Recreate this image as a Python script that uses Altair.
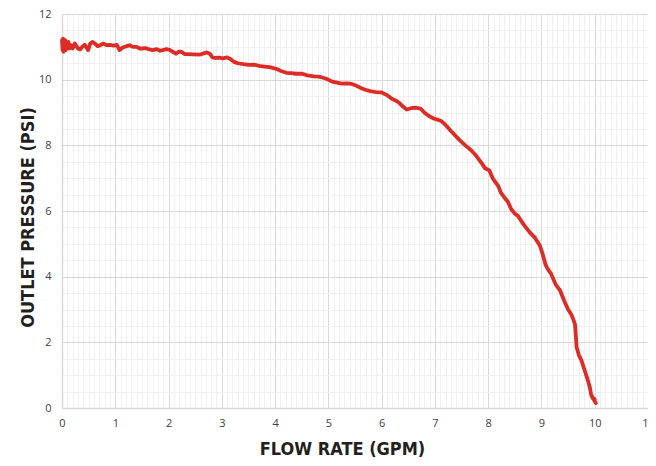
import altair as alt
import pandas as pd

flow = [0.00, 0.01, 0.02, 0.03, 0.04, 0.05, 0.06, 0.07, 0.08, 0.10, 0.12, 0.14, 0.17, 0.20,
        0.24, 0.30, 0.34, 0.38, 0.43, 0.47, 0.49, 0.53, 0.57, 0.62, 0.67, 0.72, 0.77, 0.84,
        0.90, 0.97, 1.03, 1.08, 1.14, 1.21, 1.27, 1.33, 1.40, 1.46, 1.51, 1.58, 1.64, 1.70,
        1.78, 1.84, 1.89, 1.96, 2.02, 2.08, 2.14, 2.19, 2.24, 2.30, 2.36, 2.45, 2.58, 2.66,
        2.72, 2.78, 2.82, 2.88, 2.95, 3.02, 3.10, 3.16, 3.22, 3.30, 3.40, 3.51, 3.60, 3.70,
        3.80, 3.90, 4.02, 4.10, 4.21, 4.30, 4.39, 4.51, 4.58, 4.64, 4.73, 4.82, 4.92, 5.00,
        5.07, 5.16, 5.25, 5.35, 5.44, 5.52, 5.63, 5.72, 5.81, 5.90, 6.00, 6.10, 6.19, 6.28,
        6.34, 6.40, 6.47, 6.55, 6.63, 6.73, 6.80, 6.88, 6.97, 7.05, 7.12, 7.20, 7.31, 7.45,
        7.57, 7.68, 7.75, 7.81, 7.88, 7.94, 8.02, 8.09, 8.19, 8.24, 8.30, 8.37, 8.43, 8.50,
        8.56, 8.66, 8.78, 8.88, 8.97, 9.02, 9.08, 9.13, 9.18, 9.27, 9.35, 9.43, 9.50, 9.56,
        9.59, 9.63, 9.65, 9.66, 9.70, 9.75, 9.81, 9.87, 9.91, 9.93, 9.96, 10.00, 9.95, 10.02,
        10.00]
pressure = [11.20, 10.90, 11.25, 10.85, 11.20, 10.95, 11.20, 10.90, 11.15, 10.95, 11.15, 10.95,
            11.05, 10.95, 11.10, 10.95, 10.92, 11.00, 11.06, 10.95, 10.90, 11.10, 11.15, 11.10,
            11.02, 11.05, 11.10, 11.05, 11.06, 11.04, 11.06, 10.90, 10.98, 11.02, 11.05, 11.00,
            11.00, 10.95, 10.95, 10.96, 10.92, 10.90, 10.93, 10.88, 10.90, 10.93, 10.91, 10.85,
            10.79, 10.85, 10.85, 10.78, 10.78, 10.77, 10.76, 10.80, 10.83, 10.78, 10.68, 10.66,
            10.67, 10.65, 10.68, 10.63, 10.55, 10.50, 10.47, 10.45, 10.46, 10.42, 10.40, 10.38,
            10.33, 10.27, 10.21, 10.20, 10.18, 10.18, 10.14, 10.12, 10.10, 10.09, 10.05, 10.00,
            9.94, 9.91, 9.88, 9.89, 9.87, 9.82, 9.73, 9.68, 9.64, 9.62, 9.61, 9.53, 9.42, 9.35,
            9.28, 9.18, 9.09, 9.13, 9.15, 9.12, 9.00, 8.90, 8.82, 8.78, 8.74, 8.62, 8.42, 8.18,
            8.00, 7.85, 7.73, 7.60, 7.45, 7.30, 7.24, 6.98, 6.76, 6.55, 6.42, 6.28, 6.06, 5.92,
            5.85, 5.60, 5.35, 5.18, 4.95, 4.70, 4.35, 4.20, 4.09, 3.75, 3.58, 3.25, 3.00, 2.85,
            2.73, 2.55, 2.10, 1.85, 1.62, 1.45, 1.15, 0.85, 0.62, 0.42, 0.30, 0.25, 0.35, 0.15,
            0.20]

x_ticks = [round(i * 0.1, 1) for i in range(111)]
y_ticks = [round(i * 0.5, 1) for i in range(25)]

df = pd.DataFrame({"flow": flow, "pressure": pressure, "i": list(range(len(flow)))})

title_font = "'DejaVu Sans Condensed', 'Roboto', sans-serif"
label_font = "Open Sans"

chart = alt.Chart(df).mark_line(
    color="#dd2c26", strokeWidth=3.8, strokeJoin="round", strokeCap="round"
).encode(
    x=alt.X("flow:Q", scale=alt.Scale(domain=[0, 11], nice=False, zero=True),
            axis=alt.Axis(
                title="FLOW RATE (GPM)", values=x_ticks,
                labelExpr="datum.value % 1 === 0 ? format(datum.value, 'd') : ''",
                labelOverlap=False, ticks=False, labelPadding=9, labelBound=False, labelFlush=False,
                gridColor=alt.condition("datum.value % 1 === 0", alt.value("#d9d9d9"), alt.value("#f0f0f0")),
                titleX=280, titleY=41, titleBaseline="middle", titleAnchor="middle",
                titleFont=title_font, titleFontSize=18, titleFontWeight="bold", titleColor="#231f20",
            )),
    y=alt.Y("pressure:Q", scale=alt.Scale(domain=[0, 12], nice=False),
            axis=alt.Axis(
                title="OUTLET PRESSURE (PSI)", values=y_ticks,
                labelExpr="datum.value % 2 === 0 ? format(datum.value, 'd') : ''",
                labelOverlap=False, ticks=False, labelPadding=11,
                gridColor=alt.condition("datum.value % 2 === 0", alt.value("#d9d9d9"), alt.value("#f0f0f0")),
                titleX=-34, titleY=203, titleAngle=-90, titleBaseline="middle", titleAnchor="middle",
                titleFont=title_font, titleFontSize=18, titleFontWeight="bold", titleColor="#231f20",
            )),
    order="i:Q",
).properties(
    width=586, height=394,
    autosize=alt.AutoSizeParams(type="none"),
    padding={"left": 54, "top": 6, "right": 0, "bottom": 50},
).configure_axis(
    labelFont=label_font, labelFontSize=11, labelColor="#404040",
    domainColor="#d9d9d9", domainWidth=1.5, gridWidth=1,
).configure_view(stroke=None)

chart.save("out.html", embed_options={"renderer": "svg", "actions": False})
